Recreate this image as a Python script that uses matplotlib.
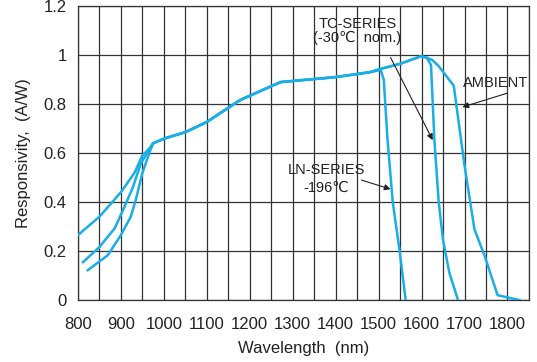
import matplotlib
matplotlib.use('Agg')
import matplotlib.pyplot as plt
from matplotlib.ticker import MultipleLocator, FuncFormatter

# curves (wavelength nm, responsivity A/W)
common_x = [975, 1002, 1051, 1100, 1177, 1246, 1272, 1398, 1479]
common_y = [0.64, 0.66, 0.686, 0.727, 0.816, 0.87, 0.89, 0.91, 0.93]

ambient_x = [800, 850, 900, 932, 950, 967] + common_x + [1507, 1551, 1598, 1612, 1625, 1640, 1675, 1700, 1723, 1747, 1777, 1828]
ambient_y = [0.265, 0.34, 0.44, 0.52, 0.59, 0.62] + common_y + [0.945, 0.965, 0.995, 0.99, 0.98, 0.955, 0.875, 0.55, 0.29, 0.18, 0.02, 0.0]

tc_x = [812, 850, 886, 905, 928, 947, 963] + common_x + [1507, 1551, 1598, 1612, 1622, 1630, 1640, 1650, 1665, 1684]
tc_y = [0.155, 0.216, 0.294, 0.367, 0.46, 0.56, 0.604] + common_y + [0.945, 0.965, 0.995, 0.99, 0.96, 0.65, 0.4, 0.245, 0.11, 0.005]

ln_x = [823, 870, 900, 923, 935, 950, 967] + common_x + [1505, 1512, 1521, 1533, 1549, 1563]
ln_y = [0.122, 0.184, 0.265, 0.34, 0.41, 0.518, 0.604] + common_y + [0.94, 0.9, 0.65, 0.4, 0.2, 0.0]

x_ticks = list(range(800, 1801, 100))
y_ticks = [0, 0.2, 0.4, 0.6, 0.8, 1.0, 1.2]

fam = ['Liberation Sans Narrow', 'Liberation Sans', 'DejaVu Sans']
plt.rcParams['font.family'] = fam
txt = '#222222'
blue = '#1aaee8'

fig = plt.figure(figsize=(5.37, 3.62), dpi=100)
ax = fig.add_axes([0.145, 0.171, 0.84, 0.812])

for xs, ys in [(ambient_x, ambient_y), (tc_x, tc_y), (ln_x, ln_y)]:
    ax.plot(xs, ys, color=blue, lw=1.8, zorder=3)

ax.set_xlim(800, 1850)
ax.set_ylim(0, 1.2)
ax.set_xticks(x_ticks)
ax.xaxis.set_minor_locator(MultipleLocator(50))
ax.set_yticks(y_ticks)
ax.yaxis.set_major_formatter(FuncFormatter(lambda v, p: '%g' % v))
ax.grid(which='both', color='#333333', lw=0.9)
ax.tick_params(which='both', length=0, labelsize=12, colors=txt)
ax.tick_params(axis='x', pad=12)
ax.tick_params(axis='y', pad=8)
for s in ax.spines.values():
    s.set_color('#333333')
    s.set_linewidth(0.9)

ax.set_xlabel('Wavelength  (nm)', fontsize=12, color=txt, labelpad=7)
ax.set_ylabel('Responsivity,  (A/W)', fontsize=12, color=txt, labelpad=9)

arrow = dict(arrowstyle='-|>', color='#222222', lw=0.8, mutation_scale=9, shrinkA=0, shrinkB=0)
ax.text(1451, 1.10, 'TC-SERIES\n(-30\u2103  nom.)', ha='center', va='center', fontsize=10.5,
        color=txt, linespacing=1.0, family=fam)
ax.annotate('', xy=(1626, 0.653), xytext=(1528, 0.99), arrowprops=arrow)
ax.text(1772, 0.886, 'AMBIENT', ha='center', va='center', fontsize=10.5, color=txt)
ax.annotate('', xy=(1695, 0.788), xytext=(1800, 0.845), arrowprops=arrow)
ax.text(1379, 0.53, 'LN-SERIES', ha='center', va='center', fontsize=10.5, color=txt)
ax.text(1377, 0.457, '-196\u2103', ha='center', va='center', fontsize=10.5, color=txt, family=fam)
ax.annotate('', xy=(1528, 0.453), xytext=(1460, 0.49), arrowprops=arrow)

fig.savefig('out.png', dpi=100)
